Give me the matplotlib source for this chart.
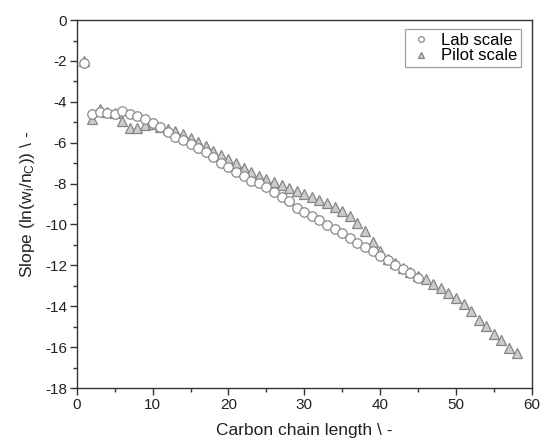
import matplotlib
matplotlib.use("Agg")
import matplotlib.pyplot as plt
from matplotlib.ticker import MultipleLocator

plt.rcParams['font.family'] = ['Liberation Sans', 'DejaVu Sans']
plt.rcParams['mathtext.default'] = 'regular'
plt.rcParams['axes.unicode_minus'] = False

# Lab scale (open circles), carbon number 1..45
lab_x = list(range(1, 46))
lab_y = [-2.12, -4.60, -4.48, -4.57, -4.60, -4.44, -4.60, -4.68, -4.84, -5.03,
         -5.21, -5.47, -5.70, -5.88, -6.07, -6.28, -6.47, -6.70, -6.98, -7.17,
         -7.42, -7.63, -7.86, -7.99, -8.19, -8.40, -8.64, -8.86, -9.18, -9.41,
         -9.59, -9.78, -10.03, -10.22, -10.44, -10.68, -10.89, -11.09, -11.30, -11.55,
         -11.74, -11.99, -12.18, -12.39, -12.60]

# Pilot scale (grey triangles), carbon number 1..58
pilot_x = list(range(1, 59))
pilot_y = [-2.00, -4.84, -4.34, -4.50, -4.53, -4.93, -5.30, -5.30, -5.15, -5.09,
           -5.21, -5.33, -5.43, -5.58, -5.76, -5.95, -6.15, -6.39, -6.60, -6.82,
           -7.01, -7.26, -7.45, -7.62, -7.78, -7.92, -8.07, -8.22, -8.36, -8.50,
           -8.64, -8.81, -8.94, -9.13, -9.33, -9.59, -9.92, -10.32, -10.85, -11.29,
           -11.71, -11.90, -12.15, -12.34, -12.52, -12.69, -12.92, -13.13, -13.37, -13.62,
           -13.89, -14.24, -14.68, -14.97, -15.36, -15.66, -16.03, -16.31]

fig = plt.figure(figsize=(5.41, 4.46), dpi=100)
ax = fig.add_axes([0.142, 0.130, 0.841, 0.825])

ax.plot(lab_x, lab_y, linestyle='none', marker='o', markersize=6.8,
        markerfacecolor='white', markeredgecolor='#8a8a8a', markeredgewidth=0.9,
        label='Lab scale', zorder=3)
ax.plot(pilot_x, pilot_y, linestyle='none', marker='^', markersize=7.6,
        markerfacecolor='#cccccc', markeredgecolor='#858585', markeredgewidth=0.9,
        label='Pilot scale', zorder=2)

ax.set_xlim(0, 60)
ax.set_ylim(-18, 0)
ax.xaxis.set_major_locator(MultipleLocator(10))
ax.xaxis.set_minor_locator(MultipleLocator(5))
ax.yaxis.set_major_locator(MultipleLocator(2))
ax.yaxis.set_minor_locator(MultipleLocator(1))

for s in ax.spines.values():
    s.set_color('#333333')
    s.set_linewidth(1.0)
ax.tick_params(which='both', direction='out', colors='#333333', labelcolor='#222222',
               labelsize=11, width=1.0)
ax.tick_params(which='major', length=5, pad=2)
ax.tick_params(which='minor', length=3)

ax.set_xlabel('Carbon chain length \\ -', fontsize=12.5, color='#222222', labelpad=8)
ax.set_ylabel(r'Slope (ln(w$_{i}$/n$_{C}$)) \ -', fontsize=12.5, color='#222222', labelpad=6)

leg = ax.legend(loc='upper right', bbox_to_anchor=(0.976, 0.975), fontsize=12,
                frameon=True, fancybox=False, edgecolor='#888888', markerscale=0.6,
                handletextpad=0.4, borderpad=0.2, labelspacing=0.05, handlelength=1.6,
                borderaxespad=0.0)
leg.get_frame().set_linewidth(0.9)

fig.savefig('out.png', dpi=100)
